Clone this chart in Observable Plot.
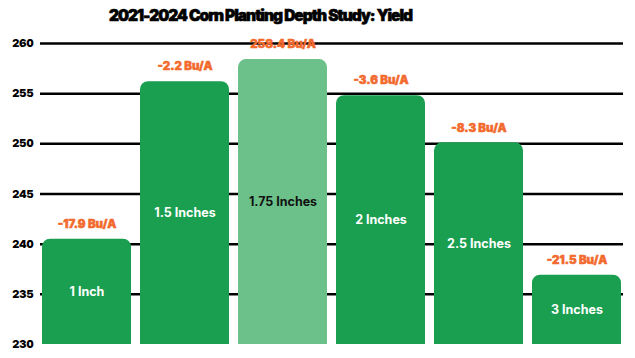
<!DOCTYPE html>
<html>
<head>
<meta charset="utf-8">
<script src="https://cdn.jsdelivr.net/npm/d3@7"></script>
<script src="https://cdn.jsdelivr.net/npm/@observablehq/plot@0.6"></script>
<style>
  html, body { margin: 0; padding: 0; background: #fff; }
  #wrap { width: 635px; height: 358px; position: relative; overflow: hidden; }
  #title { position: absolute; top: 6px; left: 0; width: 521px; text-align: center;
    font-family: Inter, "Noto Sans", sans-serif; font-weight: 900; font-size: 15.5px;
    letter-spacing: -1px; color: #000; -webkit-text-stroke: 0.6px #000; }
  #chart { position: absolute; top: 32px; left: 0; }
</style>
</head>
<body>
<div id="wrap">
  <div id="title">2021-2024 Corn Planting Depth Study: Yield</div>
  <div id="chart"></div>
</div>
<script>
const depths = ["1 Inch", "1.5 Inches", "1.75 Inches", "2 Inches", "2.5 Inches", "3 Inches"];
const yields = [240.5, 256.2, 258.4, 254.8, 250.1, 236.9];
const diffLabels = ["-17.9 Bu/A", "-2.2 Bu/A", "258.4 Bu/A", "-3.6 Bu/A", "-8.3 Bu/A", "-21.5 Bu/A"];
const yTicks = [230, 235, 240, 245, 250, 255, 260];
const highlight = "1.75 Inches";

const data = depths.map((d, i) => ({depth: d, yield: yields[i], diff: diffLabels[i]}));
const font = "Inter, 'Noto Sans', sans-serif";

const chart = Plot.plot({
  width: 635,
  height: 326,
  marginTop: 11,
  marginBottom: 14,
  marginLeft: 40,
  marginRight: 12,
  style: {fontFamily: font, background: "transparent"},
  x: {domain: depths, paddingInner: 0.087, paddingOuter: 0, axis: null},
  y: {domain: [230, 260], ticks: yTicks, tickSize: 0, tickPadding: 7, label: null,
      tickFormat: d => String(d)},
  marks: [
    Plot.ruleY(yTicks.filter(t => t > 230), {stroke: "#000", strokeWidth: 2.5}),
    Plot.axisY({ticks: yTicks, tickSize: 0, tickPadding: 7, label: null,
      fontWeight: 900, fontSize: 11, fill: "#000", textAnchor: "end",
      stroke: "#000", strokeWidth: 0.5,
      style: {letterSpacing: "-0.9px"}}),
    Plot.barY(data, {x: "depth", y: "yield", rx: 8, clip: true,
      fill: d => d.depth === highlight ? "#6cc18a" : "#1a9f50"}),
    Plot.text(data, {x: "depth", y: d => (d.yield + 230) / 2, text: "depth",
      fill: d => d.depth === highlight ? "#111" : "#fff",
      fontWeight: 700, fontSize: 12.5, style: {letterSpacing: "-0.4px"}}),
    Plot.text(data, {x: "depth", y: "yield", text: "diff", dy: -15,
      fill: "#f26a2d", stroke: "#f26a2d", strokeWidth: 0.5,
      fontWeight: 900, fontSize: 11.5, style: {letterSpacing: "-0.9px"}})
  ]
});
document.getElementById("chart").appendChild(chart);
</script>
</body>
</html>
